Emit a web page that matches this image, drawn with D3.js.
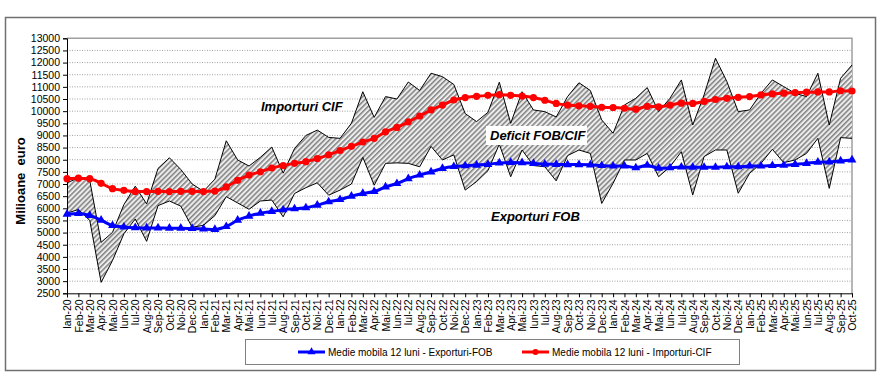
<!DOCTYPE html>
<html><head><meta charset="utf-8">
<script src="https://cdn.jsdelivr.net/npm/d3@7"></script>
<style>body{margin:0;background:#fff}svg{display:block;font-family:"Liberation Sans",Arial,sans-serif}</style>
</head><body><svg id="c" width="894" height="391"></svg>
<script>
const monthNames = ["Ian","Feb","Mar","Apr","Mai","Iun","Iul","Aug","Sep","Oct","Noi","Dec"];
const years = ["20","21","22","23","24","25"];
const months = [];
years.forEach(y => monthNames.forEach(m => months.push(m + "-" + y)));
months.splice(70); // Ian-20 .. Oct-25

const importsCIF = [7050,7250,7150,4600,5010,6150,6910,6180,7640,8080,7600,7000,
  6700,7200,8780,7990,7740,8100,8520,7450,8460,9000,9220,8920,
  8880,9500,10800,9745,10600,10500,11200,10850,11560,11420,11100,9900,
  9570,9950,11190,9500,10800,10050,9980,9760,10600,11170,10850,9640,
  9090,10255,10530,10970,9980,10530,11285,9430,10670,12180,11220,9980,
  10050,10735,11285,11010,10735,10600,11560,9430,11355,11900];
const exportsFOB = [5800,5950,5500,2950,3850,4950,5560,4640,6110,6300,6090,5220,
  5300,5700,6480,6220,5960,6300,6340,5650,6610,6850,7050,6540,
  6750,7000,8100,6950,7850,7870,7850,7710,8550,7990,8200,6750,
  7100,7550,8640,7300,8400,7760,7710,7130,8170,8400,8260,6200,
  7030,7990,7990,8260,7300,7710,8330,6550,8130,8400,8400,6620,
  7440,7850,8430,7880,7990,8260,8880,6820,8910,8880];
const maImports = [7220,7240,7220,7030,6810,6740,6690,6690,6700,6690,6700,6700,
  6690,6710,6880,7150,7370,7500,7660,7760,7850,7920,8050,8200,
  8380,8550,8730,8880,9150,9330,9560,9800,10050,10250,10460,10560,
  10610,10650,10680,10650,10620,10560,10450,10320,10250,10220,10200,10160,
  10150,10120,10080,10200,10180,10250,10330,10320,10400,10480,10530,10570,
  10600,10670,10710,10740,10760,10780,10790,10790,10840,10830];
const maExports = [5760,5790,5710,5510,5290,5230,5200,5190,5190,5180,5180,5170,
  5150,5130,5250,5510,5680,5800,5870,5940,5980,6020,6130,6270,
  6360,6500,6610,6690,6880,7020,7220,7370,7500,7640,7720,7750,
  7780,7810,7870,7890,7880,7850,7820,7810,7800,7800,7790,7760,
  7740,7740,7670,7770,7650,7670,7700,7690,7690,7690,7710,7710,
  7740,7740,7760,7770,7810,7850,7900,7910,7950,7990];
const yTicks = d3.range(2500, 13001, 500);
const legendLabels = ["Medie mobila 12 luni - Exporturi-FOB","Medie mobila 12 luni - Importuri-CIF"];

const svg = d3.select("#c");
const L = 67, R = 852, T = 38.3, B = 293.3;
const x = d3.scalePoint().domain(months).range([L, R]);
const y = d3.scaleLinear().domain([2500, 13000]).range([B, T]);

// outer frame
svg.append("rect").attr("x",5.5).attr("y",17.5).attr("width",870).attr("height",353)
  .attr("fill","#fff").attr("stroke","#707070").attr("stroke-width",1.5);

// pattern
const defs = svg.append("defs");
const pat = defs.append("pattern").attr("id","hatch").attr("patternUnits","userSpaceOnUse")
  .attr("width",3.6).attr("height",3.6).attr("patternTransform","rotate(45)");
pat.append("rect").attr("width",3.6).attr("height",3.6).attr("fill","#ececec");
pat.append("line").attr("x1",0.8).attr("y1",0).attr("x2",0.8).attr("y2",3.6)
  .attr("stroke","#5a5a5a").attr("stroke-width",1.1);

// grid
svg.append("g").selectAll("line").data(yTicks.filter(v => v > 2500 && v < 13000)).join("line")
  .attr("x1",L).attr("x2",R).attr("y1",d=>y(d)).attr("y2",d=>y(d))
  .attr("stroke","#8c8c8c").attr("stroke-width",0.8).attr("stroke-dasharray","1,1.5");

// plot border top/right
svg.append("path").attr("d",`M${L},${T}H${R}V${B}`).attr("fill","none")
  .attr("stroke","#a0a0a0").attr("stroke-width",1.5);

// area
const idx = d3.range(months.length);
svg.append("path").datum(idx)
  .attr("d", d3.area().x(i=>x(months[i])).y0(i=>y(exportsFOB[i])).y1(i=>y(importsCIF[i])))
  .attr("fill","url(#hatch)");
[importsCIF, exportsFOB].forEach(s => {
  svg.append("path").datum(idx)
    .attr("d", d3.line().x(i=>x(months[i])).y(i=>y(s[i])))
    .attr("fill","none").attr("stroke","#000").attr("stroke-width",1);
});

// axes
const yAxis = d3.axisLeft(y).tickValues(yTicks).tickFormat(d3.format("d")).tickSize(4).tickPadding(3);
const gy = svg.append("g").attr("transform",`translate(${L},0)`).call(yAxis);
gy.selectAll("text").attr("font-size","10.5px").attr("fill","#000").attr("font-family","Liberation Sans, Arial");
gy.select(".domain").attr("stroke","#000");
gy.selectAll(".tick line").attr("stroke","#000");

const xAxis = d3.axisBottom(x).tickSize(4).tickPadding(2);
const gx = svg.append("g").attr("transform",`translate(0,${B})`).call(xAxis);
gx.select(".domain").attr("stroke","#000");
gx.selectAll(".tick line").attr("stroke","#000");
gx.selectAll("text").attr("font-size","10.5px").attr("fill","#000").attr("font-family","Liberation Sans, Arial")
  .attr("transform","rotate(-90)").attr("text-anchor","end").attr("dy","0.35em").attr("x",-6).attr("y",0);

// moving averages
function maSeries(s, color, marker){
  svg.append("path").datum(idx)
    .attr("d", d3.line().x(i=>x(months[i])).y(i=>y(s[i])).curve(d3.curveMonotoneX))
    .attr("fill","none").attr("stroke",color).attr("stroke-width",3);
  const g = svg.append("g");
  if (marker === "circle") {
    g.selectAll("circle").data(idx).join("circle").attr("cx",i=>x(months[i])).attr("cy",i=>y(s[i]))
      .attr("r",3.6).attr("fill",color);
  } else {
    g.selectAll("path").data(idx).join("path")
      .attr("transform",i=>`translate(${x(months[i])},${y(s[i])})`)
      .attr("d", d3.symbol().type(d3.symbolTriangle).size(34)).attr("fill",color);
  }
}
maSeries(maImports, "#ff0000", "circle");
maSeries(maExports, "#0000ff", "triangle");

// annotations
const ann = svg.append("g").attr("font-weight","bold").attr("font-style","italic").attr("font-size","13px");
ann.append("text").attr("x",261).attr("y",110.5).text("Importuri CIF");
ann.append("rect").attr("x",486).attr("y",126).attr("width",101).attr("height",19).attr("fill","#fff");
ann.append("text").attr("x",490).attr("y",139.5).text("Deficit FOB/CIF");
ann.append("text").attr("x",491).attr("y",220.5).text("Exporturi FOB");

// y title
svg.append("text").attr("transform","translate(25,181) rotate(-90)").attr("text-anchor","middle")
  .attr("font-weight","bold").attr("font-size","13px").style("white-space","pre").text("Milioane  euro");

// legend
const lg = svg.append("g");
lg.append("rect").attr("x",245.5).attr("y",339.5).attr("width",494).attr("height",25)
  .attr("fill","#fff").attr("stroke","#808080").attr("stroke-width",1);
const items = [{x:298, c:"#0000ff", m:"triangle", t:legendLabels[0]},{x:522, c:"#ff0000", m:"circle", t:legendLabels[1]}];
items.forEach(it => {
  lg.append("line").attr("x1",it.x).attr("x2",it.x+27).attr("y1",352).attr("y2",352)
    .attr("stroke",it.c).attr("stroke-width",3);
  if (it.m === "circle") lg.append("circle").attr("cx",it.x+13.5).attr("cy",352).attr("r",3).attr("fill",it.c);
  else lg.append("path").attr("transform",`translate(${it.x+13.5},352)`)
    .attr("d", d3.symbol().type(d3.symbolTriangle).size(28)).attr("fill",it.c);
  lg.append("text").attr("x",it.x+30).attr("y",355.5).attr("font-size","10px").text(it.t);
});
</script></body></html>
